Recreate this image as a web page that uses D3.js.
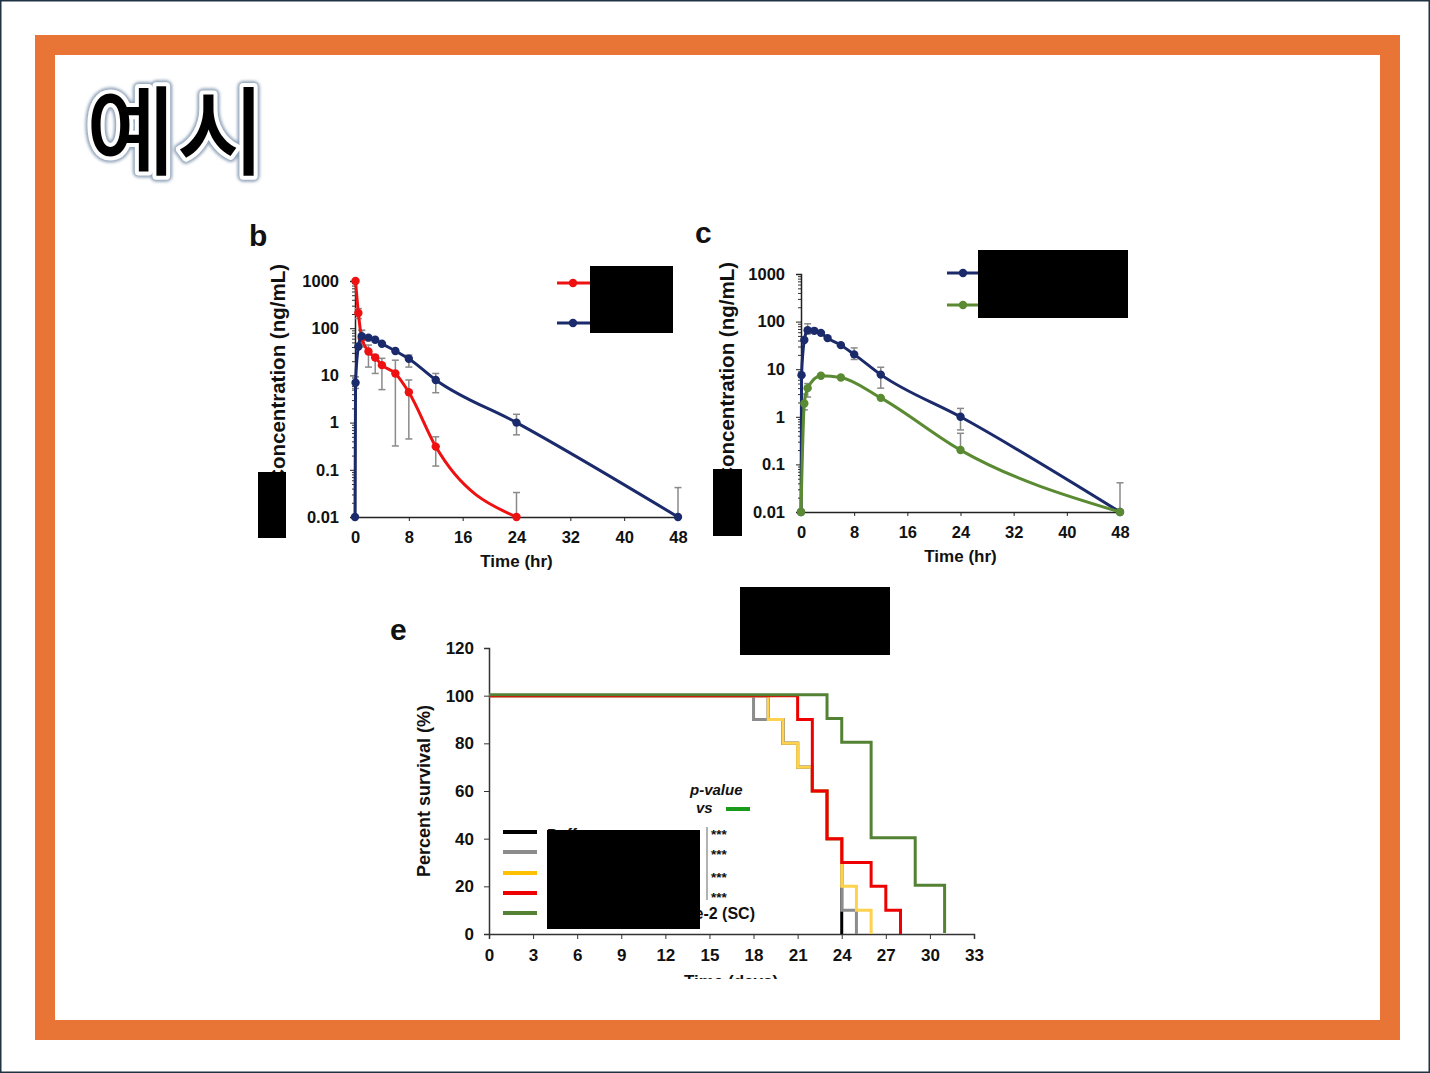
<!DOCTYPE html>
<html>
<head>
<meta charset="utf-8">
<script src="https://cdn.jsdelivr.net/npm/d3@7"></script>
<style>
body { margin: 0; background: #fff; }
svg text { font-family: "Liberation Sans", Arial, sans-serif; font-weight: bold; fill: #111; }
</style>
</head>
<body>
<svg id="chart" width="1430" height="1073"></svg>
<script>
/*
 * Draw the "예시" slide: two PK curves (b, c) and a survival plot (e).
 */

/* ---- shared ticks ---- */
var pkTicksX = [0, 8, 16, 24, 32, 40, 48];
var pkTicksY = [1000, 100, 10, 1, 0.1, 0.01];
var pkTickLabelsY = ["1000", "100", "10", "1", "0.1", "0.01"];

/* ---- panel b ---- */
var bRedTime = [0.083, 0.5, 1, 2, 3, 4, 6, 8, 12, 24];
var bRedConc = [1000, 210, 62, 32, 24, 16.5, 11, 4.4, 0.31, 0.01];
var bRedErrHi = [null, 260, 90, 44, 27, 23, 21, 8, 0.5, 0.033];
var bRedErrLo = [null, 160, 40, 15, 11, 5, 0.32, 0.45, 0.12, null];

var bNavyTime = [0, 0.083, 0.5, 1, 2, 3, 4, 6, 8, 12, 24, 48];
var bNavyConc = [0.01, 7, 41, 68, 63, 57, 47, 33, 22.5, 8, 1.0, 0.01];
var bNavyErrHi = [null, 9.3, null, 90, null, null, null, null, 27, 11, 1.5, 0.042];
var bNavyErrLo = [null, 5.3, null, 50, null, null, null, null, 15, 4.3, 0.55, null];

/* ---- panel c ---- */
var cNavyTime = [0, 0.083, 0.5, 1, 2, 3, 4, 6, 8, 12, 24, 48];
var cNavyConc = [0.01, 7.5, 41, 66, 64, 58, 45, 32, 20.5, 7.7, 1.0, 0.01];
var cNavyErrHi = [null, null, null, 90, null, null, null, null, 28, 11, 1.5, 0.041];
var cNavyErrLo = [null, null, null, 55, null, null, null, null, 16, 4.0, 0.53, null];

var cGreenTime = [0, 0.5, 1, 3, 6, 12, 24, 48];
var cGreenConc = [0.01, 1.9, 4.0, 7.3, 6.7, 2.5, 0.2, 0.01];
var cGreenErrHi = [null, 3.0, 5.0, null, null, null, 0.45, null];
var cGreenErrLo = [null, 1.4, 2.6, null, null, null, null, null];

/* ---- panel e: survival steps ---- */
var survTicksX = [0, 3, 6, 9, 12, 15, 18, 21, 24, 27, 30, 33];
var survTicksY = [0, 20, 40, 60, 80, 100, 120];
var survGroups = ["Buffer", "grey", "yellow", "red", "green"];
var survColors = ["#000000", "#8c8c8c", "#ffd24d", "#ee0000", "#548235"];
var legendColors = ["#000000", "#8c8c8c", "#ffc000", "#ee0000", "#548235"];
var survBlackDay = [0, 19, 20, 21, 22, 23, 24];
var survBlackPct = [100, 90, 80, 70, 60, 40, 0];
var survGreyDay = [0, 18, 20, 21, 22, 23, 24, 25];
var survGreyPct = [100, 90, 80, 70, 60, 40, 10, 0];
var survYellowDay = [0, 19, 20, 21, 22, 23, 24, 25, 26];
var survYellowPct = [100, 90, 80, 70, 60, 40, 20, 10, 0];
var survRedDay = [0, 21, 22, 23, 24, 26, 27, 28];
var survRedPct = [100, 90, 60, 40, 30, 20, 10, 0];
var survGreenDay = [0, 23, 24, 26, 29, 31];
var survGreenPct = [100, 90, 80, 40, 20, 0];
var pStars = ["***", "***", "***", "***"];

var NAVY = "#1b2a6b";
var RED = "#ee1111";
var GREEN = "#5a8a32";

var svg = d3.select("#chart");

/* zip a few arrays into point objects */
function zip(t, v, hi, lo) {
	return t.map(function(d, i) {
		return { t: d, v: v[i], hi: hi ? hi[i] : null, lo: lo ? lo[i] : null };
	});
}

/* Slide frame */
function drawFrame() {
	svg.append("rect").attr("x", 0).attr("y", 0).attr("width", 1430).attr("height", 1073).attr("fill", "#fff");
	svg.append("rect").attr("x", 45).attr("y", 45).attr("width", 1345).attr("height", 985)
		.attr("fill", "none").attr("stroke", "#e87435").attr("stroke-width", 20);
	svg.append("rect").attr("x", 0.75).attr("y", 0.75).attr("width", 1428.5).attr("height", 1071.5)
		.attr("fill", "none").attr("stroke", "#1f3344").attr("stroke-width", 1.5);

	/* Title with outline */
	var defs = svg.append("defs");
	var f = defs.append("filter").attr("id", "glow").attr("x", "-10%").attr("y", "-10%").attr("width", "120%").attr("height", "120%");
	f.append("feGaussianBlur").attr("stdDeviation", 1.5);
	var title = svg.append("g");
	var layers = [
		{ stroke: "#8fa2b8", w: 12, filter: "url(#glow)" },
		{ stroke: "#ffffff", w: 8, filter: null }
	];
	layers.forEach(function(l) {
		title.append("text").attr("x", 86).attr("y", 167)
			.style("font-family", "'Noto Sans CJK KR', sans-serif").style("font-weight", 500)
			.attr("font-size", 97).style("fill", "none").attr("letter-spacing", 1)
			.attr("stroke", l.stroke).attr("stroke-width", l.w).attr("stroke-linejoin", "round")
			.attr("filter", l.filter).text("예시");
	});
	title.append("text").attr("x", 86).attr("y", 167)
		.style("font-family", "'Noto Sans CJK KR', sans-serif").style("font-weight", 500)
		.attr("font-size", 97).attr("letter-spacing", 1).style("fill", "#000").text("예시");
}

/* One PK panel with a log y axis */
function drawPk(p) {
	var x = d3.scaleLinear().domain([0, 48]).range([p.x0, p.x1]);
	var y = d3.scaleLog().domain([0.01, 1000]).range([p.y0, p.y1]);
	var g = svg.append("g");

	/* panel letter */
	g.append("text").attr("x", p.letterX).attr("y", p.letterY).attr("font-size", 30).text(p.letter);

	/* minor ticks */
	var minors = [];
	for (var e = -2; e < 3; e++) {
		for (var k = 2; k < 10; k++) minors.push(k * Math.pow(10, e));
	}
	g.append("g").attr("transform", "translate(" + p.x0 + ",0)")
		.call(d3.axisLeft(y).tickValues(minors).tickSize(3).tickFormat(""))
		.call(function(a) { a.select(".domain").remove(); a.selectAll("line").attr("stroke", "#333"); });

	var yAxis = g.append("g").attr("transform", "translate(" + p.x0 + ",0)")
		.call(d3.axisLeft(y).tickValues(pkTicksY).tickSize(5).tickPadding(11)
			.tickFormat(function(d, i) { return pkTickLabelsY[i]; }));
	var xAxis = g.append("g").attr("transform", "translate(0," + p.y0 + ")")
		.call(d3.axisBottom(x).tickValues(pkTicksX).tickSize(4).tickPadding(10));
	[yAxis, xAxis].forEach(function(a) {
		a.select(".domain").attr("stroke", "#222").attr("stroke-width", 1.5);
		a.selectAll("line").attr("stroke", "#222");
		a.selectAll("text").attr("font-size", 16.5).attr("font-family", "Liberation Sans, Arial").attr("font-weight", "bold").attr("fill", "#111");
	});

	g.append("text").attr("x", (p.x0 + p.x1) / 2).attr("y", p.y0 + 50).attr("text-anchor", "middle")
		.attr("font-size", 17).text("Time (hr)");
	g.append("text").attr("transform", "translate(" + p.labelX + "," + p.labelY + ") rotate(-90)")
		.attr("text-anchor", "end").attr("font-size", 20.5).text("Concentration (ng/mL)");

	var line = d3.line().x(function(d) { return x(d.t); }).y(function(d) { return y(d.v); })
		.curve(d3.curveMonotoneX);

	/* error bars */
	p.series.forEach(function(s) {
		s.data.forEach(function(d) {
			var top = d.hi ? d.hi : d.v;
			var bot = d.lo ? d.lo : d.v;
			if (!d.hi && !d.lo) return;
			g.append("line").attr("x1", x(d.t)).attr("x2", x(d.t)).attr("y1", y(top)).attr("y2", y(bot))
				.attr("stroke", "#8a8a8a").attr("stroke-width", 1.5);
			[d.hi, d.lo].forEach(function(c) {
				if (!c) return;
				g.append("line").attr("x1", x(d.t) - 3.5).attr("x2", x(d.t) + 3.5).attr("y1", y(c)).attr("y2", y(c))
					.attr("stroke", "#8a8a8a").attr("stroke-width", 1.5);
			});
		});
	});

	/* lines and markers */
	p.series.forEach(function(s) {
		g.append("path").datum(s.data).attr("d", line).attr("fill", "none")
			.attr("stroke", s.color).attr("stroke-width", 3);
		g.selectAll(null).data(s.data).enter().append("circle")
			.attr("cx", function(d) { return x(d.t); }).attr("cy", function(d) { return y(d.v); })
			.attr("r", 4.2).attr("fill", s.color);
	});

	/* legend */
	p.series.forEach(function(s, i) {
		var ly = p.legY[i];
		g.append("line").attr("x1", p.legX).attr("x2", p.legX + 33).attr("y1", ly).attr("y2", ly)
			.attr("stroke", s.color).attr("stroke-width", 3);
		g.append("circle").attr("cx", p.legX + 16).attr("cy", ly).attr("r", 4.2).attr("fill", s.color);
	});

	/* redaction boxes */
	p.boxes.forEach(function(b) {
		g.append("rect").attr("x", b[0]).attr("y", b[1]).attr("width", b[2]).attr("height", b[3]).attr("fill", "#000");
	});
}

/* Survival panel */
function drawSurvival() {
	var x = d3.scaleLinear().domain([0, 33]).range([489, 974]);
	var y = d3.scaleLinear().domain([0, 120]).range([934, 648]);
	var g = svg.append("g");

	g.append("text").attr("x", 390).attr("y", 640).attr("font-size", 30).text("e");

	var yAxis = g.append("g").attr("transform", "translate(489,0)")
		.call(d3.axisLeft(y).tickValues(survTicksY).tickSize(5).tickPadding(10));
	var xAxis = g.append("g").attr("transform", "translate(0,934)")
		.call(d3.axisBottom(x).tickValues(survTicksX).tickSize(5).tickPadding(10));
	[yAxis, xAxis].forEach(function(a) {
		a.select(".domain").attr("stroke", "#333").attr("stroke-width", 1.5);
		a.selectAll("line").attr("stroke", "#333");
		a.selectAll("text").attr("font-size", 17).attr("font-family", "Liberation Sans, Arial").attr("font-weight", "bold").attr("fill", "#111");
	});

	g.append("text").attr("transform", "translate(430,791) rotate(-90)").attr("text-anchor", "middle")
		.attr("font-size", 18).text("Percent survival (%)");

	/* cut-off x label */
	g.append("clipPath").attr("id", "cutLabel").append("rect")
		.attr("x", 600).attr("y", 960).attr("width", 300).attr("height", 19);
	g.append("text").attr("x", 731).attr("y", 987).attr("text-anchor", "middle")
		.attr("font-size", 17).attr("clip-path", "url(#cutLabel)").text("Time (days)");

	var steps = [
		zip(survBlackDay, survBlackPct),
		zip(survGreyDay, survGreyPct),
		zip(survYellowDay, survYellowPct),
		zip(survRedDay, survRedPct),
		zip(survGreenDay, survGreenPct)
	];
	var line = d3.line().x(function(d) { return x(d.t); }).y(function(d) { return y(d.v); })
		.curve(d3.curveStepAfter);
	steps.forEach(function(s, i) {
		g.append("path").datum(s).attr("d", line).attr("fill", "none")
			.attr("stroke", survColors[i]).attr("stroke-width", 3)
			.attr("transform", i == 4 ? "translate(0,-1)" : null);
	});

	/* legend */
	var legY = [832, 852, 873, 893, 913];
	survGroups.forEach(function(name, i) {
		g.append("line").attr("x1", 503).attr("x2", 537).attr("y1", legY[i]).attr("y2", legY[i])
			.attr("stroke", legendColors[i]).attr("stroke-width", 4);
	});
	g.append("text").attr("x", 547).attr("y", 839).attr("font-size", 15).text("Buffer");
	g.append("text").attr("x", 755).attr("y", 919).attr("text-anchor", "end").attr("font-size", 16).text("e-2 (SC)");

	/* p-value column */
	g.append("text").attr("x", 690).attr("y", 795).attr("font-size", 15).attr("font-style", "italic").text("p-value");
	g.append("text").attr("x", 696).attr("y", 813).attr("font-size", 15).attr("font-style", "italic").text("vs");
	g.append("line").attr("x1", 726).attr("x2", 750).attr("y1", 809).attr("y2", 809)
		.attr("stroke", "#1a9a1a").attr("stroke-width", 4);
	g.append("line").attr("x1", 707).attr("x2", 707).attr("y1", 827).attr("y2", 900)
		.attr("stroke", "#999").attr("stroke-width", 1.5);
	var starY = [839, 859, 882, 902];
	pStars.forEach(function(s, i) {
		g.append("text").attr("x", 711).attr("y", starY[i]).attr("font-size", 13.5).attr("fill", "#333").text(s);
	});

	g.append("rect").attr("x", 547).attr("y", 830).attr("width", 153).attr("height", 99).attr("fill", "#000");
	g.append("rect").attr("x", 740).attr("y", 587).attr("width", 150).attr("height", 68).attr("fill", "#000");
}

drawFrame();

drawPk({
	letter: "b", letterX: 249, letterY: 246,
	x0: 355, x1: 678, y0: 517, y1: 281,
	labelX: 285, labelY: 264,
	legX: 557, legY: [283, 323],
	series: [
		{ color: RED, data: zip(bRedTime, bRedConc, bRedErrHi, bRedErrLo) },
		{ color: NAVY, data: zip(bNavyTime, bNavyConc, bNavyErrHi, bNavyErrLo) }
	],
	boxes: [[590, 266, 83, 67], [258, 472, 28, 66]]
});

drawPk({
	letter: "c", letterX: 695, letterY: 243,
	x0: 801, x1: 1120, y0: 512, y1: 274,
	labelX: 734, labelY: 262,
	legX: 947, legY: [273, 305],
	series: [
		{ color: NAVY, data: zip(cNavyTime, cNavyConc, cNavyErrHi, cNavyErrLo) },
		{ color: GREEN, data: zip(cGreenTime, cGreenConc, cGreenErrHi, cGreenErrLo) }
	],
	boxes: [[978, 250, 150, 68], [713, 469, 29, 67]]
});

drawSurvival();
</script>
</body>
</html>
